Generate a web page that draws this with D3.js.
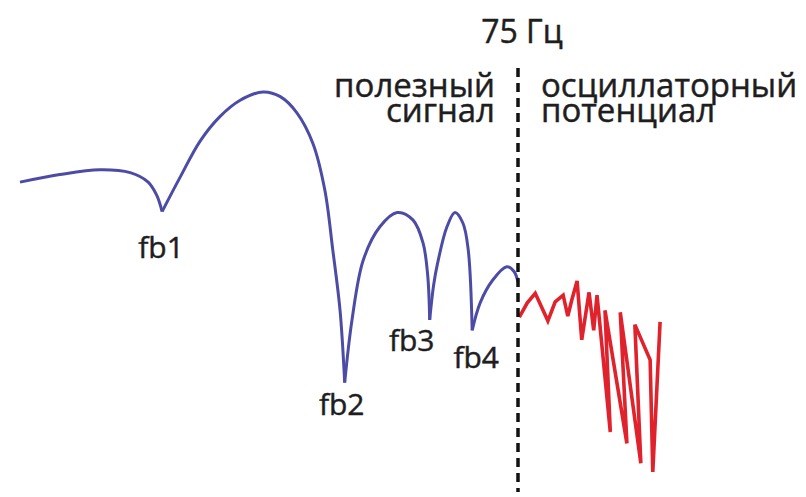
<!DOCTYPE html>
<html>
<head>
<meta charset="utf-8">
<script src="https://cdn.jsdelivr.net/npm/d3@7"></script>
<style>
body { margin: 0; background: #fff; }
text { font-family: "Open Sans", sans-serif; fill: #1e1e1e; stroke: #1e1e1e; stroke-width: 0.45px; }
</style>
</head>
<body>
<div class="chart"></div>
<script>
// spectrum: frequency (Hz) and level (dB)
var freqBlue = [0, 6.0, 12.0, 16.6, 19.3, 20.6, 21.4, 24.1, 27.1, 30.1, 33.1, 36.6, 39.2, 41.7, 44.1, 45.9, 47.1, 48.2, 48.9,
    50.0, 51.7, 54.2, 56.8, 59.2, 60.7, 61.4, 61.7, 62.3, 62.9, 64.3, 65.5, 66.7, 67.5, 68.1, 69.3, 71.2, 73.3, 74.4, 75.0];
var ampBlue = [-9.7, -8.9, -8.4, -8.7, -9.7, -11.1, -12.8, -9.2, -5.4, -2.8, -1.1, -0.2, -0.7, -2.4, -5.6, -10.5, -16.8, -23.2, -30.8,
    -24.2, -17.9, -14.4, -12.9, -13.7, -16.1, -19.5, -24.2, -20.5, -18.2, -14.4, -12.9, -14.0, -16.8, -25.3, -22.4, -20.0, -18.6, -19.1, -20.2];

var freqRed = [75.2, 76.4, 77.6, 79.5, 80.6, 81.8, 82.5, 83.1, 83.9, 84.6, 85.7, 86.4, 86.9, 88.9, 88.1, 91.4, 90.4, 93.5, 92.6, 94.9, 95.3, 96.4];
var ampRed = [-23.9, -22.4, -21.4, -24.3, -22.3, -21.6, -23.8, -22.1, -20.1, -26.3, -21.3, -25.3, -21.6, -36.0, -23.2, -37.2, -23.4, -39.3, -24.7, -28.4, -40.2, -24.4];

var dipLabels = ["fb1", "fb2", "fb3", "fb4"];
var dipFreqs = [21.4, 48.9, 61.7, 68.1];
var cutoffFreq = 75;
var cutoffLabel = "75 Гц";
var leftLabel = ["полезный", "сигнал"];
var rightLabel = ["осциллаторный", "потенциал"];

// layout
var svgW = 806, svgH = 497;
var labelOffsets = [[-1, 46], [-3, 32], [-18, 31], [4, 38]];

var svg = d3.select(".chart").append("svg")
    .attr("width", svgW)
    .attr("height", svgH);

var x = d3.scaleLinear().domain([0, cutoffFreq]).range([20, 518]);
var y = d3.scaleLinear().domain([0, -40]).range([90, 470]);

var blue = freqBlue.map(function(f, i) { return { f: f, a: ampBlue[i] }; });
var red = freqRed.map(function(f, i) { return { f: f, a: ampRed[i] }; });

// split blue at the dips so every dip stays a sharp cusp
var cuts = dipFreqs.map(function(f) { return freqBlue.indexOf(f); });
var lobes = [];
var start = 0;
cuts.concat([blue.length - 1]).forEach(function(c) {
    lobes.push(blue.slice(start, c + 1));
    start = c;
});

var smooth = d3.line()
    .x(function(d) { return x(d.f); })
    .y(function(d) { return y(d.a); })
    .curve(d3.curveCatmullRom.alpha(0.5));

var straight = d3.line()
    .x(function(d) { return x(d.f); })
    .y(function(d) { return y(d.a); });

svg.selectAll(".lobe")
    .data(lobes)
    .enter().append("path")
    .attr("class", "lobe")
    .attr("d", smooth)
    .attr("fill", "none")
    .attr("stroke", "#4c4ca6")
    .attr("stroke-width", 3)
    .attr("stroke-linejoin", "round");

svg.append("path")
    .datum(red)
    .attr("d", straight)
    .attr("fill", "none")
    .attr("stroke", "#e0222c")
    .attr("stroke-width", 3.6)
    .attr("stroke-linejoin", "miter");

// 75 Hz divider
svg.append("line")
    .attr("x1", x(cutoffFreq)).attr("x2", x(cutoffFreq))
    .attr("y1", 68).attr("y2", 492)
    .attr("stroke", "#111")
    .attr("stroke-width", 3.5)
    .attr("stroke-dasharray", "9,6");

svg.append("text")
    .attr("x", x(cutoffFreq) + 4)
    .attr("y", 43)
    .attr("text-anchor", "middle")
    .attr("font-size", 32)
    .text(cutoffLabel);

// two-line region captions
function caption(lines, xPos, anchor) {
    var t = svg.append("text")
        .attr("y", 97)
        .attr("text-anchor", anchor)
        .attr("font-size", 33);
    t.selectAll("tspan")
        .data(lines)
        .enter().append("tspan")
        .attr("x", xPos)
        .attr("dy", function(d, i) { return i ? 25 : 0; })
        .text(function(d) { return d; });
}
caption(leftLabel, x(cutoffFreq) - 23, "end");
caption(rightLabel, x(cutoffFreq) + 23, "start");

svg.selectAll(".dip")
    .data(dipLabels)
    .enter().append("text")
    .attr("class", "dip")
    .attr("x", function(d, i) { return x(dipFreqs[i]) + labelOffsets[i][0]; })
    .attr("y", function(d, i) {
        var k = freqBlue.indexOf(dipFreqs[i]);
        return y(ampBlue[k]) + labelOffsets[i][1];
    })
    .attr("text-anchor", "middle")
    .attr("font-size", 30)
    .text(function(d) { return d; });
</script>
</body>
</html>
